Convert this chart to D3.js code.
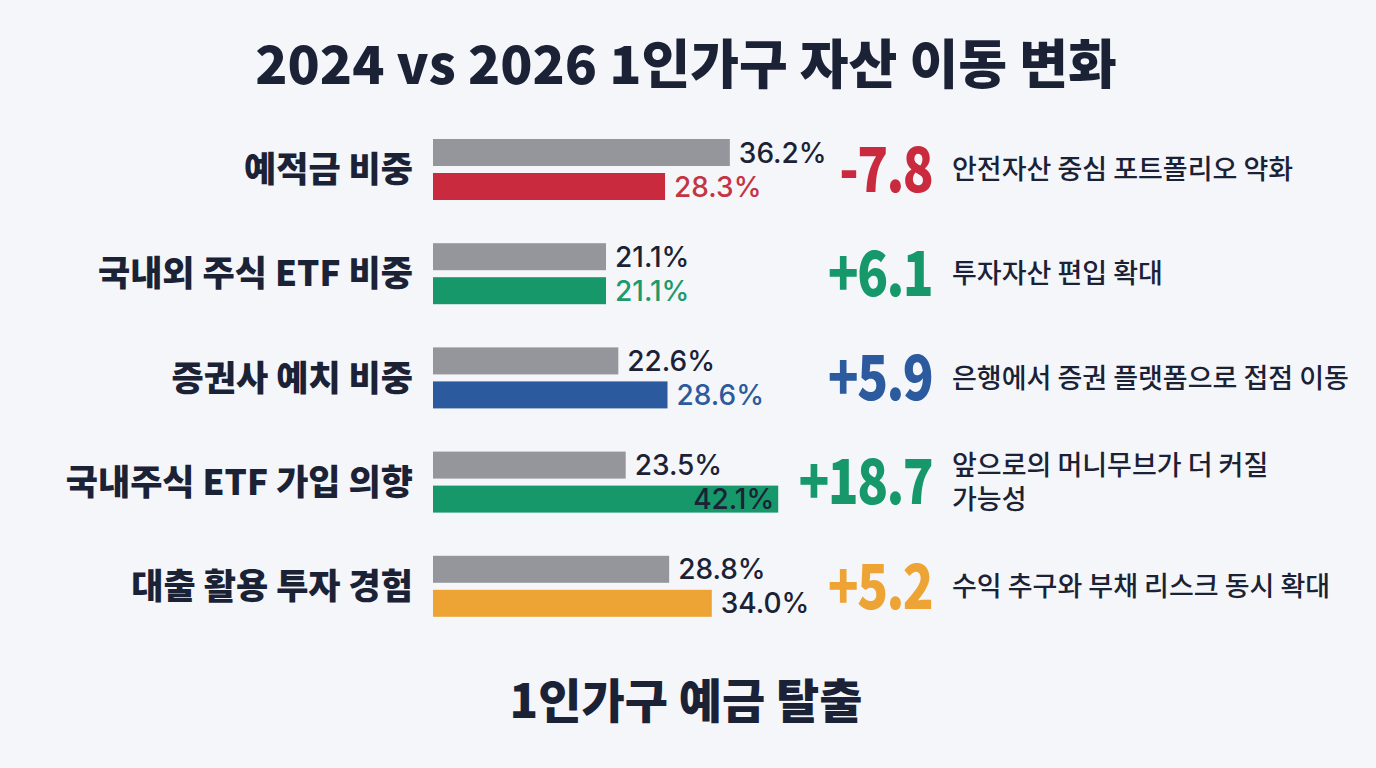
<!DOCTYPE html>
<html><head><meta charset="utf-8">
<script src="https://cdn.jsdelivr.net/npm/d3@7"></script>
<style>
html,body{margin:0;padding:0;background:#f4f6f9;}
svg{display:block;}
</style></head><body>
<svg id="chart" width="1376" height="768"></svg>
<script>
const title = "2024 vs 2026 1인가구 자산 이동 변화";
const subtitle = "1인가구 예금 탈출";
const categories = ["예적금 비중", "국내외 주식 ETF 비중", "증권사 예치 비중", "국내주식 ETF 가입 의향", "대출 활용 투자 경험"];
const values2024 = [36.2, 21.1, 22.6, 23.5, 28.8];
const values2026 = [28.3, 21.1, 28.6, 42.1, 34.0];
const deltaLabels = ["-7.8", "+6.1", "+5.9", "+18.7", "+5.2"];
const descriptions = [
  ["안전자산 중심 포트폴리오 약화"],
  ["투자자산 편입 확대"],
  ["은행에서 증권 플랫폼으로 접점 이동"],
  ["앞으로의 머니무브가 더 커질", "가능성"],
  ["수익 추구와 부채 리스크 동시 확대"]
];

// styles
const barColors = ["#c92a3e", "#17986a", "#2c5a9f", "#17986a", "#eda434"];
const labelColors = ["#c43444", "#1d9a6c", "#2c5a9f", "#1b2236", "#1b2236"];
const grayColor = "#95969b";
const ink = "#1b2236";
const KR = "'Noto Sans CJK KR','Noto Sans',sans-serif";
const NUM = "Inter,'Noto Sans',sans-serif";

const rows = categories.map((c, i) => ({
  cat: c, v24: values2024[i], v26: values2026[i], delta: deltaLabels[i],
  desc: descriptions[i], color: barColors[i], lcolor: labelColors[i]
}));

const svg = d3.select("#chart");

const x = d3.scaleLinear().domain([0, 50]).range([433, 843]);
const y = d3.scaleBand().domain(categories).range([117.4, 638.4]).paddingInner(0).paddingOuter(0);
const barH = 27;

// title
svg.append("text").attr("x", 686).attr("y", 84).attr("text-anchor", "middle")
  .attr("font-family", KR).attr("font-weight", 900).attr("font-size", 53)
  .attr("fill", ink).text(title);

svg.append("text").attr("x", 686).attr("y", 718).attr("text-anchor", "middle")
  .attr("font-family", KR).attr("font-weight", 900).attr("font-size", 47)
  .attr("fill", ink).text(subtitle);

const g = svg.selectAll("g.row").data(rows).join("g").attr("class", "row")
  .attr("transform", d => `translate(0,${y(d.cat) + y.bandwidth() / 2})`);

g.append("text").attr("x", 413).attr("y", 0).attr("dy", "0.36em")
  .attr("text-anchor", "end").attr("font-family", KR).attr("font-weight", 900)
  .attr("font-size", 35).attr("fill", ink).text(d => d.cat);

// 2024 bars
g.append("rect").attr("x", x(0)).attr("y", -30.5).attr("height", barH)
  .attr("width", d => x(d.v24) - x(0)).attr("fill", grayColor);
g.append("text").attr("x", d => x(d.v24) + 9).attr("y", -17).attr("dy", "0.36em")
  .attr("font-family", NUM).attr("font-weight", 500).attr("font-size", 28)
  .attr("fill", ink).text(d => d.v24.toFixed(1) + "%");

// 2026 bars
g.append("rect").attr("x", x(0)).attr("y", 3.5).attr("height", barH)
  .attr("width", d => x(d.v26) - x(0)).attr("fill", d => d.color);
g.append("text")
  .attr("x", d => d.v26 >= 40 ? x(d.v26) - 4 : x(d.v26) + 9)
  .attr("text-anchor", d => d.v26 >= 40 ? "end" : "start")
  .attr("y", 17).attr("dy", "0.36em")
  .attr("font-family", NUM).attr("font-weight", 500).attr("font-size", 28)
  .attr("fill", d => d.lcolor).text(d => d.v26.toFixed(1) + "%");

// delta (condensed heavy numerals)
g.append("text")
  .attr("transform", "translate(932,0) scale(0.82,1)")
  .attr("x", 0).attr("y", 0).attr("dy", "0.36em")
  .attr("text-anchor", "end").attr("font-family", KR).attr("font-weight", 900)
  .attr("font-size", 62).attr("letter-spacing", -2).attr("fill", d => d.color).text(d => d.delta);

// description
g.each(function (d) {
  const t = d3.select(this).append("text").attr("x", 952)
    .attr("font-family", KR).attr("font-weight", 500).attr("font-size", 27).attr("fill", ink);
  const n = d.desc.length;
  d.desc.forEach((line, j) => {
    t.append("tspan").attr("x", 952).attr("y", (j - (n - 1) / 2) * 34).attr("dy", "0.36em").text(line);
  });
});
</script>
</body></html>
